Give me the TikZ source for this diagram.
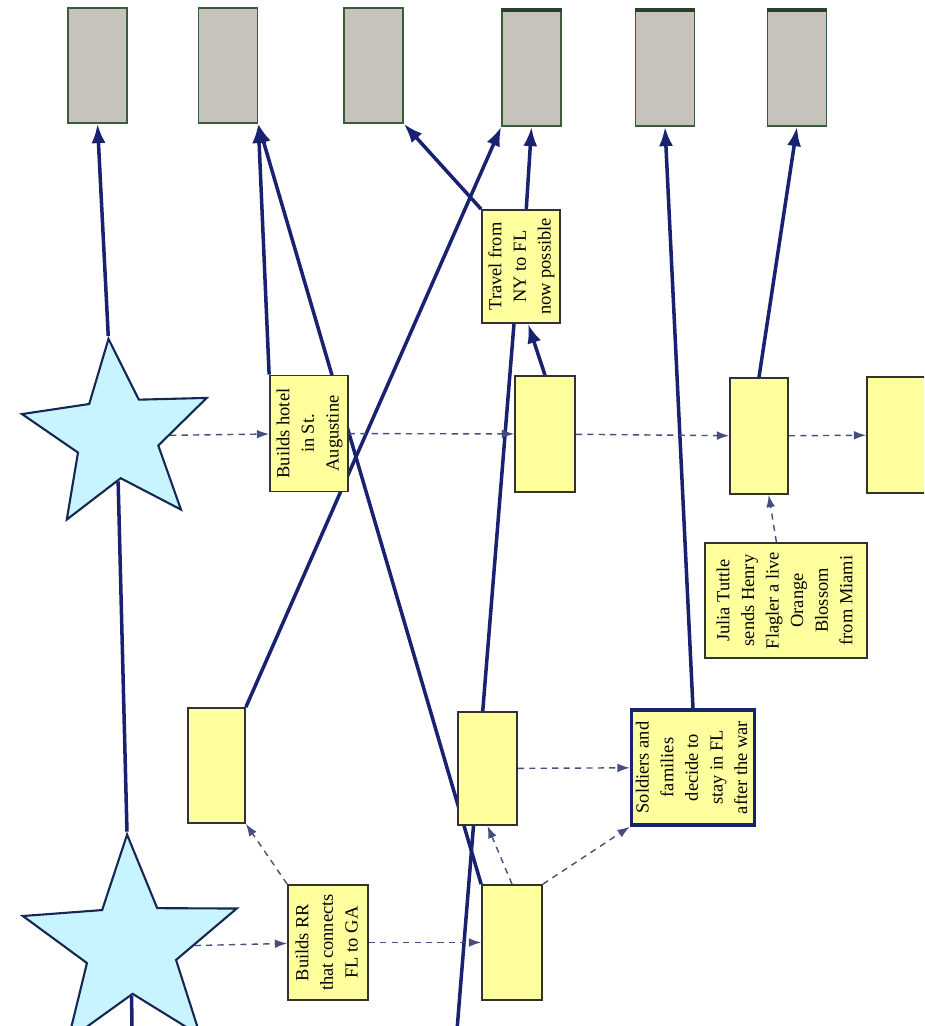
\documentclass[tikz,border=0pt]{standalone}
\usepackage{fontspec}
\setmainfont{Liberation Serif}
\usepackage{graphicx}
\usetikzlibrary{arrows.meta,shapes.geometric}
\definecolor{inknavy}{RGB}{24,34,112}
\definecolor{dashnavy}{RGB}{70,78,128}
\definecolor{noteyellow}{RGB}{255,255,158}
\definecolor{noteedge}{RGB}{50,50,50}
\definecolor{slategray}{RGB}{197,195,188}
\definecolor{mossgreen}{RGB}{58,92,58}
\definecolor{starcyan}{RGB}{200,244,255}
\definecolor{staredge}{RGB}{22,40,82}
\pgfdeclarelayer{back}
\pgfsetlayers{back,main}
\newcommand{\boxtext}[1]{\rotatebox{90}{\begin{tabular}{@{}c@{}}#1\end{tabular}}}

\begin{document}
\begin{tikzpicture}[x=0.02cm,y=-0.02cm,
  endbox/.style={draw=mossgreen,fill=slategray,line width=0.9pt,minimum width=1.18cm,minimum height=2.3cm,inner sep=0pt},
  note/.style={draw=noteedge,fill=noteyellow,line width=1pt,inner sep=0pt,minimum height=2.32cm,font=\fontsize{10.5}{14}\selectfont},
  bigstar/.style={star,star points=5,draw=staredge,fill=starcyan,line width=1.2pt,inner sep=0pt},
  link/.style={inknavy,line width=2pt,-{Latex[length=11pt,width=8pt]}},
  plainlink/.style={inknavy,line width=2pt},
  hint/.style={dashnavy,line width=0.8pt,dash pattern=on 3.5pt off 3pt,-{Latex[length=7pt,width=5pt]}}]
\clip (0,0) rectangle (924,1026);
\node[endbox] (G1) at (97.5,65.5) {};
\node[endbox] (G2) at (228,65.5) {};
\node[endbox] (G3) at (373.5,65.5) {};
\node[endbox] (G4) at (531.5,68.5) {};
\node[endbox] (G5) at (665,68.5) {};
\node[endbox] (G6) at (797,68.5) {};
\foreach \g in {G4,G5,G6}
  \draw[mossgreen!70!black,line width=2pt] (\g.north west) -- (\g.north east);
\node[bigstar,minimum size=3.9cm,star point ratio=2.3,rotate=5] (S1) at (117,436) {};
\node[bigstar,minimum size=4.5cm,star point ratio=2.4,rotate=2] (S2) at (131,947) {};
\node[note,minimum width=1.56cm] (B1) at (309,433.5) {\boxtext{Builds hotel\\in St.\\Augustine}};
\node[note,minimum width=1.2cm] (B2) at (545,434) {};
\node[note,minimum width=1.16cm] (B3) at (759,436) {};
\node[note,minimum width=1.2cm] (B4) at (897,435) {};
\node[note,minimum width=1.56cm,minimum height=2.26cm] (T) at (521,266.5) {\boxtext{Travel from\\NY to FL\\now possible}};
\node[note,minimum width=3.24cm,minimum height=2.3cm] (J) at (786,600.5) {\boxtext{Julia Tuttle\\sends Henry\\Flagler a live\\Orange\\Blossom\\from Miami}};
\node[note,minimum width=1.14cm,minimum height=2.3cm] (E1) at (216.5,765.5) {};
\node[note,minimum width=1.18cm,minimum height=2.26cm] (E2) at (487.5,768.5) {};
\node[note,minimum width=2.46cm,minimum height=2.3cm,draw=inknavy,line width=2pt] (S) at (693,767.5) {\boxtext{Soldiers and\\families\\decide to\\stay in FL\\after the war}};
\node[note,minimum width=1.6cm,minimum height=2.3cm] (R) at (328,942.5) {\boxtext{Builds RR\\that connects\\FL to GA}};
\node[note,minimum width=1.2cm,minimum height=2.3cm] (E3) at (512,942.5) {};
\begin{pgfonlayer}{back}
\coordinate (s2foot) at (132,1030);
\coordinate (risefoot) at (457,1030);
\draw[link] (S1.outer point 1) -- (G1.south);
\draw[plainlink] (S2.outer point 1) -- (S1);
\draw[plainlink] (s2foot) -- (S2);
\draw[link] (B1.north west) -- (G2.south east);
\draw[link] (E3.north west) -- (G2.south east);
\draw[link] (E1.north east) -- (G4.south west);
\draw[plainlink] (risefoot) -- ([xshift=-4pt]T.south);
\draw[link] (B2.north) -- ([xshift=4pt]T.south);
\draw[link] ([xshift=3pt]T.north) -- (G4.south);
\draw[link] (T.north west) -- (G3.south east);
\draw[link] (S.north) -- (G5.south);
\draw[link] (B3.north) -- (G6.south);
\draw[hint] (S1) -- (B1);
\draw[hint] (B1) -- (B2);
\draw[hint] (B2) -- (B3);
\draw[hint] (B3) -- (B4);
\draw[hint] (J) -- (B3);
\draw[hint] (S2) -- (R);
\draw[hint] (R) -- (E3);
\draw[hint] (R.north west) -- (E1.south east);
\draw[hint] (E3.north) -- (E2.south);
\draw[hint] (E3.north east) -- (S.south west);
\draw[hint] (E2) -- (S);
\end{pgfonlayer}
\end{tikzpicture}
\end{document}
